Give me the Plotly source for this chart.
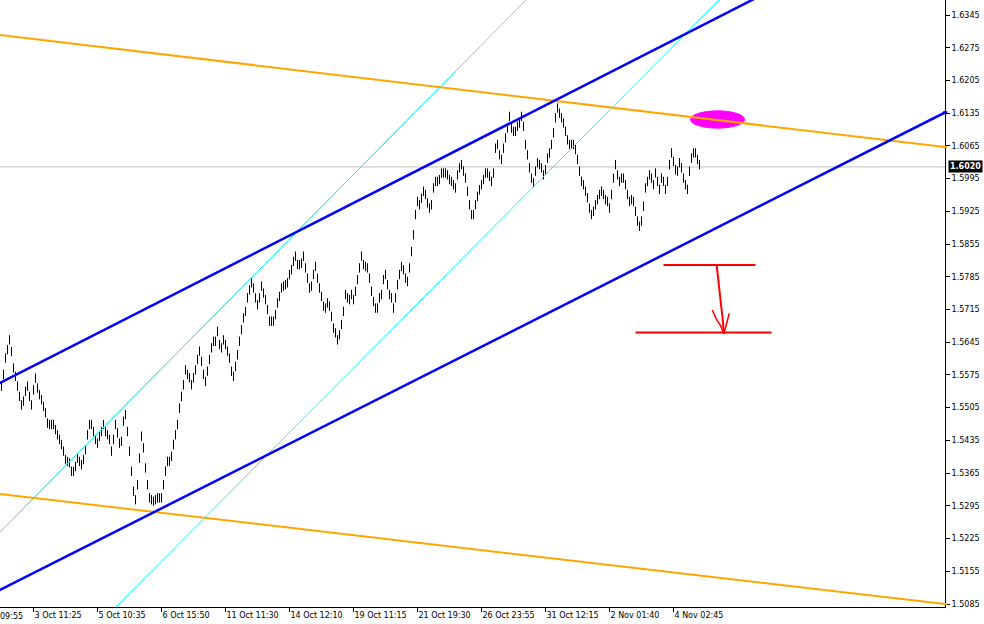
import plotly.graph_objects as go

# ---------------- data ----------------
# high of each price bar (one bar per slot)
bar_high = [
    1.5561, 1.5586, 1.5621, 1.5639, 1.5660, 1.5635, 1.5600, 1.5582, 1.5561, 1.5539,
    1.5521, 1.5529, 1.5550, 1.5561, 1.5539, 1.5521, 1.5553, 1.5578, 1.5557, 1.5543,
    1.5532, 1.5518, 1.5504, 1.5482, 1.5479, 1.5479, 1.5479, 1.5468, 1.5457, 1.5447,
    1.5436, 1.5422, 1.5404, 1.5400, 1.5397, 1.5379, 1.5379, 1.5389, 1.5407, 1.5400,
    1.5393, 1.5404, 1.5425, 1.5457, 1.5479, 1.5479, 1.5464, 1.5447, 1.5439, 1.5454,
    1.5464, 1.5479, 1.5464, 1.5457, 1.5447, 1.5422, 1.5447, 1.5479, 1.5461, 1.5439,
    1.5443, 1.5486, 1.5500, 1.5464, 1.5422, 1.5379, 1.5336, 1.5318, 1.5350, 1.5407,
    1.5454, 1.5429, 1.5386, 1.5350, 1.5322, 1.5318, 1.5315, 1.5318, 1.5322, 1.5322,
    1.5322, 1.5350, 1.5379, 1.5400, 1.5400, 1.5411, 1.5436, 1.5457,
    1.5479, 1.5514, 1.5539, 1.5564, 1.5596, 1.5586, 1.5579, 1.5564, 1.5579, 1.5596,
    1.5618, 1.5636, 1.5614, 1.5586, 1.5571, 1.5593, 1.5618, 1.5643, 1.5657, 1.5657,
    1.5678, 1.5650, 1.5643, 1.5660, 1.5650, 1.5636, 1.5621, 1.5593, 1.5582, 1.5603,
    1.5628, 1.5657, 1.5682, 1.5707, 1.5721, 1.5750, 1.5767, 1.5782, 1.5771, 1.5750,
    1.5735, 1.5750, 1.5775, 1.5760, 1.5746, 1.5725, 1.5700, 1.5700, 1.5700, 1.5714,
    1.5739, 1.5753, 1.5771, 1.5775, 1.5778, 1.5782, 1.5800, 1.5810, 1.5828, 1.5839,
    1.5821, 1.5821, 1.5824, 1.5839, 1.5814, 1.5792, 1.5771, 1.5775, 1.5800, 1.5817,
    1.5792, 1.5771, 1.5753, 1.5732, 1.5728, 1.5739, 1.5732, 1.5710, 1.5685, 1.5675,
    1.5660, 1.5671, 1.5693, 1.5721, 1.5757, 1.5750, 1.5746, 1.5757,
    1.5746, 1.5764, 1.5789, 1.5814, 1.5839, 1.5821, 1.5817, 1.5814, 1.5792, 1.5764,
    1.5742, 1.5728, 1.5728, 1.5750, 1.5757, 1.5789, 1.5800, 1.5778, 1.5757, 1.5750,
    1.5728, 1.5750, 1.5778, 1.5800, 1.5817, 1.5810, 1.5792, 1.5785, 1.5814, 1.5849,
    1.5885, 1.5928, 1.5956, 1.5949, 1.5963, 1.5978, 1.5971, 1.5953, 1.5942, 1.5949,
    1.5985, 1.5999, 1.5999, 1.6003, 1.6017, 1.6017, 1.6017, 1.6013, 1.6003, 1.5999,
    1.5992, 1.5985, 1.6013, 1.6028, 1.6035, 1.6021, 1.6006, 1.5978, 1.5949, 1.5928,
    1.5928, 1.5949, 1.5967, 1.5981, 1.5992, 1.6003, 1.6017, 1.6017, 1.6010, 1.5999,
    1.6017, 1.6070, 1.6078, 1.6056, 1.6046, 1.6070, 1.6092, 1.6113, 1.6138, 1.6113,
    1.6106, 1.6106, 1.6117, 1.6124, 1.6138, 1.6117, 1.6078, 1.6056,
    1.6028, 1.6006, 1.5996, 1.6021, 1.6039, 1.6035, 1.6028, 1.6013, 1.6024, 1.6049,
    1.6060, 1.6078, 1.6103, 1.6135, 1.6156, 1.6145, 1.6135, 1.6124, 1.6106, 1.6088,
    1.6078, 1.6078, 1.6078, 1.6067, 1.6046, 1.6021, 1.5999, 1.5992, 1.5978, 1.5964,
    1.5942, 1.5928, 1.5935, 1.5949, 1.5960, 1.5971, 1.5978, 1.5971, 1.5960, 1.5956,
    1.5942, 1.5971, 1.6006, 1.6035, 1.6013, 1.5999, 1.6006, 1.6006, 1.5992, 1.5971,
    1.5956, 1.5960, 1.5956, 1.5935, 1.5914, 1.5903, 1.5914, 1.5946, 1.5985, 1.5999,
    1.6013, 1.6006, 1.5992, 1.6017, 1.5999, 1.5982, 1.6006, 1.5999, 1.5982, 1.5999,
    1.6035, 1.6060, 1.6042, 1.6024, 1.6021, 1.6039, 1.6028, 1.6006, 1.5992, 1.5982,
    1.6021, 1.6049, 1.6060, 1.6060, 1.6046, 1.6035,
]
bar_range = 0.0020

price_ticks = [1.6345, 1.6275, 1.6205, 1.6135, 1.6065, 1.5995, 1.5925, 1.5855,
               1.5785, 1.5715, 1.5645, 1.5575, 1.5505, 1.5435, 1.5365, 1.5295,
               1.5225, 1.5155, 1.5085]
time_tick_bars = [16, 48, 80, 112, 144, 176, 208, 240, 272, 304, 336]
time_tick_labels = ["3 Oct 11:25", "5 Oct 10:35", "6 Oct 15:50", "11 Oct 11:30",
                    "14 Oct 12:10", "19 Oct 11:15", "21 Oct 19:30", "26 Oct 23:55",
                    "31 Oct 12:15", "2 Nov 01:40", "4 Nov 02:45"]
first_time_label = "09:55"

bid_price = 1.6020

# trend-line anchors (bar index, price)
orange_upper_bars, orange_upper_prices = [-1, 473], [1.63023, 1.60618]
orange_lower_bars, orange_lower_prices = [-1, 473], [1.53204, 1.50842]
blue_upper_bars, blue_upper_prices = [-1, 380], [1.55572, 1.63874]
blue_lower_bars, blue_lower_prices = [-1, 473], [1.51145, 1.61391]
gray_line_bars, gray_line_prices = [-1, 263], [1.52380, 1.63803]
cyan_left_bars, cyan_left_prices = [5.25, 226.75], [1.52647, 1.62235]
cyan_right_bars, cyan_right_prices = [57, 359], [1.50775, 1.63781]

# line price markers on the right scale (price, colour)
scale_marker_prices = [1.6137, 1.6063, 1.5085]
scale_marker_colors = ["#0000FF", "#FFA500", "#FFA500"]

# red target drawing
red_top_bars, red_top_prices = [331, 377], [1.5810, 1.5810]
red_bottom_bars, red_bottom_prices = [317, 385], [1.5666, 1.5666]
arrow_shaft_bars, arrow_shaft_prices = [357.6, 358.2, 359.0, 359.8, 360.6, 361.2], [1.5810, 1.5783, 1.5752, 1.5724, 1.5695, 1.5663]
arrow_left_bars, arrow_left_prices = [355.4, 357.5, 359.6, 361.2], [1.5714, 1.5694, 1.5680, 1.5663]
arrow_right_bars, arrow_right_prices = [363.9, 363.0, 361.2], [1.5707, 1.5690, 1.5663]

# magenta ellipse (bar index span, price span)
ellipse_bars = [344.5, 371.5]
ellipse_prices = [1.6103, 1.6140]

# ---------------- figure ----------------
fig = go.Figure()

bx, by = [], []
for i, h in enumerate(bar_high):
    bx += [i, i, None]
    by += [h - bar_range, h, None]

fig.add_shape(type="circle", xref="x", yref="y",
              x0=ellipse_bars[0], x1=ellipse_bars[1],
              y0=ellipse_prices[0], y1=ellipse_prices[1],
              fillcolor="#FF00FF", line=dict(color="#FF00FF", width=1), layer="below")

# bid line
fig.add_trace(go.Scatter(x=[-1, 473], y=[bid_price, bid_price], mode="lines",
                         line=dict(color="#C0C0C0", width=1), hoverinfo="skip"))

fig.add_trace(go.Scatter(x=bx, y=by, mode="lines",
                         line=dict(color="black", width=1), hoverinfo="skip"))

def add_line(xs, ys, color, width):
    fig.add_trace(go.Scatter(x=xs, y=ys, mode="lines",
                             line=dict(color=color, width=width), hoverinfo="skip"))

add_line(gray_line_bars, gray_line_prices, "#B4B4B4", 1)
add_line(cyan_left_bars, cyan_left_prices, "#00FFFF", 1)
add_line(cyan_right_bars, cyan_right_prices, "#00FFFF", 1)
add_line(orange_upper_bars, orange_upper_prices, "#FFA500", 2)
add_line(orange_lower_bars, orange_lower_prices, "#FFA500", 2)
add_line(blue_upper_bars, blue_upper_prices, "#0000FF", 2.5)
add_line(blue_lower_bars, blue_lower_prices, "#0000FF", 2.5)
add_line(red_top_bars, red_top_prices, "#FF0000", 2)
add_line(red_bottom_bars, red_bottom_prices, "#FF0000", 2)
add_line(arrow_shaft_bars, arrow_shaft_prices, "#FF0000", 2)
add_line(arrow_left_bars, arrow_left_prices, "#FF0000", 1.5)
add_line(arrow_right_bars, arrow_right_prices, "#FF0000", 1.5)

for p, c in zip(scale_marker_prices, scale_marker_colors):
    fig.add_shape(type="line", xref="paper", yref="y", x0=0.998, x1=1.0025,
                  y0=p, y1=p, line=dict(color=c, width=2))

axis_font = dict(family="DejaVu Sans", size=8, color="black")

fig.update_layout(
    width=984, height=624,
    margin=dict(l=0, r=39, t=0, b=17),
    paper_bgcolor="white", plot_bgcolor="white",
    showlegend=False,
    xaxis=dict(range=[-0.75, 471.75], showgrid=False, zeroline=False,
               showline=True, linecolor="black", linewidth=1,
               ticks="outside", ticklen=4, tickcolor="black", tickwidth=1,
               tickvals=time_tick_bars, ticktext=time_tick_labels,
               ticklabelposition="outside right", tickfont=axis_font),
    yaxis=dict(side="right", range=[1.507858, 1.637709], showgrid=False,
               zeroline=False, showline=True, linecolor="black", linewidth=1,
               ticks="outside", ticklen=4, tickcolor="black", tickwidth=1,
               tickvals=price_ticks, ticktext=[f"{p:.4f}" for p in price_ticks],
               tickfont=axis_font),
)

fig.add_annotation(x=0, xref="paper", y=0, yref="paper", yanchor="top", xanchor="left",
                   text=first_time_label, showarrow=False, font=axis_font, yshift=-3, xshift=-2)

fig.add_annotation(x=1, xref="paper", y=bid_price, yref="y", xanchor="left", yanchor="middle",
                   text="<b>%.4f</b>" % bid_price, showarrow=False,
                   font=dict(family="DejaVu Sans", size=8, color="white"),
                   bgcolor="black", borderpad=1, xshift=3)

fig.write_html("out.html", config={"displayModeBar": False},
               post_script="document.body.style.margin='0px';document.body.style.overflow='hidden';")
